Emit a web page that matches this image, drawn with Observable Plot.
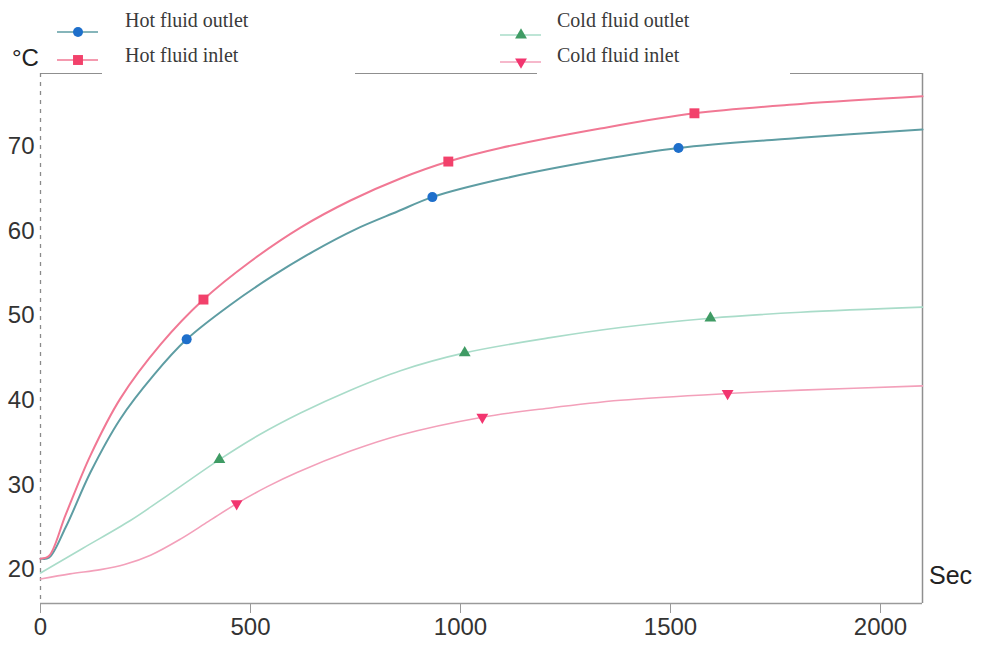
<!DOCTYPE html>
<html><head><meta charset="utf-8">
<script src="https://cdn.jsdelivr.net/npm/d3@7"></script>
<script src="https://cdn.jsdelivr.net/npm/@observablehq/plot@0.6"></script>
<style>
body{margin:0;background:#fff;}
#wrap{position:relative;width:982px;height:648px;overflow:hidden;font-family:"Liberation Sans",Arial,sans-serif;}
#chart{position:absolute;left:0;top:0;}
.mask{position:absolute;background:#fff;height:12px;top:67px;}
.leg{position:absolute;font-family:"Liberation Serif","Times New Roman",serif;font-size:20px;color:#3a3a3a;white-space:nowrap;line-height:20px;}
.sw{position:absolute;overflow:visible;}
.unit{position:absolute;font-size:24px;color:#222;line-height:24px;}
</style></head><body>
<div id="wrap"><div id="chart"></div></div>
<script>
// ---------- data ----------
const seriesNames = ["Hot fluid outlet", "Hot fluid inlet", "Cold fluid outlet", "Cold fluid inlet"];

const hotOutletTime = [0, 20, 60, 119, 190, 270, 348, 450, 550, 650, 750, 850, 933, 1095, 1333, 1519, 1810, 2100];
const hotOutletTemp = [21.3, 21.4, 25.0, 31.5, 37.8, 43.0, 47.2, 51.2, 54.6, 57.6, 60.2, 62.3, 64.0, 66.1, 68.4, 69.8, 71.0, 72.0];

const hotInletTime = [0, 20, 60, 119, 190, 286, 388, 500, 619, 738, 857, 971, 1095, 1333, 1557, 1810, 2100];
const hotInletTemp = [21.3, 21.6, 26.5, 33.5, 40.2, 46.6, 51.9, 56.4, 60.4, 63.6, 66.2, 68.2, 69.8, 72.1, 73.9, 75.0, 75.9];

const coldOutletTime = [0, 100, 214, 286, 426, 520, 619, 738, 857, 1010, 1214, 1381, 1595, 1810, 2100];
const coldOutletTemp = [19.6, 22.5, 25.8, 28.2, 33.0, 35.9, 38.5, 41.2, 43.5, 45.6, 47.4, 48.6, 49.7, 50.4, 51.0];

const coldInletTime = [0, 70, 143, 200, 262, 333, 400, 467, 540, 612, 738, 857, 1052, 1214, 1381, 1636, 1810, 2100];
const coldInletTemp = [18.9, 19.5, 20.0, 20.6, 21.7, 23.6, 25.7, 27.8, 29.8, 31.5, 34.0, 35.9, 38.0, 39.1, 40.0, 40.8, 41.2, 41.7];

// marker positions on each curve
const hotOutletMarkTime = [348, 933, 1519];
const hotOutletMarkTemp = [47.2, 64.0, 69.8];
const hotInletMarkTime = [388, 971, 1557];
const hotInletMarkTemp = [51.9, 68.2, 73.9];
const coldOutletMarkTime = [426, 1010, 1595];
const coldOutletMarkTemp = [33.0, 45.6, 49.7];
const coldInletMarkTime = [467, 1052, 1636];
const coldInletMarkTemp = [27.8, 38.0, 40.8];

const xTicks = [0, 500, 1000, 1500, 2000];
const yTicks = [20, 30, 40, 50, 60, 70];
const xDomain = [0, 2100];
const yDomain = [16, 78.6];

// ---------- styles ----------
const lineColors = ["#5e9da3", "#f17894", "#a9dcc9", "#f3a0ba"];
const markColors = ["#1e6fcb", "#f2416b", "#3f9b64", "#f2356f"];
const lineWidths = [2, 2, 1.6, 1.6];

const triangleDown = {
  draw(context, size) {
    const y = -Math.sqrt(size / (Math.sqrt(3) * 3));
    context.moveTo(0, -y * 2);
    context.lineTo(-Math.sqrt(3) * y, y);
    context.lineTo(Math.sqrt(3) * y, y);
    context.closePath();
  }
};
const symbols = ["circle", "square", "triangle", triangleDown];
const markR = [5, 5.6, 4.4, 4.4];

const lineData = [
  [hotOutletTime, hotOutletTemp],
  [hotInletTime, hotInletTemp],
  [coldOutletTime, coldOutletTemp],
  [coldInletTime, coldInletTemp]
].map(([t, v], i) => t.map((x, j) => ({series: seriesNames[i], t: x, v: v[j]})));

const markData = [
  [hotOutletMarkTime, hotOutletMarkTemp],
  [hotInletMarkTime, hotInletMarkTemp],
  [coldOutletMarkTime, coldOutletMarkTemp],
  [coldInletMarkTime, coldInletMarkTemp]
].map(([t, v], i) => t.map((x, j) => ({series: seriesNames[i], t: x, v: v[j]})));

const drawOrder = [2, 3, 0, 1];

const marks = [
  Plot.ruleY([yDomain[1]], {stroke: "#8f8f8f", strokeWidth: 1.2}),
  Plot.ruleY([yDomain[0]], {stroke: "#9a9a9a", strokeWidth: 1.5}),
  Plot.ruleX([xDomain[1]], {stroke: "#8f8f8f", strokeWidth: 1.5}),
  Plot.ruleX([xDomain[0]], {stroke: "#8a8a8a", strokeWidth: 1.3, strokeDasharray: "4,5"}),
  Plot.axisX({ticks: xTicks, tickSize: 10, tickPadding: 4, fontSize: 24, stroke: "#9a9a9a", fill: "#333", label: null, tickFormat: d => String(d)}),
  Plot.axisY({ticks: yTicks, tickSize: 0, tickPadding: 6, fontSize: 24, fill: "#333", label: null, tickFormat: d => String(d)}),
];
for (const i of drawOrder) {
  marks.push(Plot.line(lineData[i], {x: "t", y: "v", stroke: lineColors[i], strokeWidth: lineWidths[i], curve: "catmull-rom"}));
}
for (const i of drawOrder) {
  marks.push(Plot.dot(markData[i], {x: "t", y: "v", symbol: () => symbols[i], r: markR[i], fill: markColors[i], stroke: "none"}));
}

const chart = Plot.plot({
  width: 982,
  height: 648,
  marginLeft: 40,
  marginRight: 60,
  marginTop: 73,
  marginBottom: 45,
  x: {domain: xDomain},
  y: {domain: yDomain},
  symbol: {type: "identity"},
  style: {background: "#fff", fontFamily: "'Liberation Sans', Arial, sans-serif"},
  marks
});
document.getElementById("chart").appendChild(chart);

// ---------- overlays: legend, unit labels, frame gaps ----------
const wrap = document.getElementById("wrap");
function add(html) { wrap.insertAdjacentHTML("beforeend", html); }

add(`<div class="mask" style="left:102px;width:253px"></div>`);
add(`<div class="mask" style="left:537px;width:253px"></div>`);
add(`<div class="unit" style="left:12px;top:46px">°C</div>`);
add(`<div class="unit" style="left:929px;top:563px;font-size:25px">Sec</div>`);

const legendItems = [
  {i: 0, sx: 57, sy: 32, tx: 125, ty: 10},
  {i: 1, sx: 57, sy: 60, tx: 125, ty: 45},
  {i: 2, sx: 500, sy: 35, tx: 557, ty: 10},
  {i: 3, sx: 500, sy: 62, tx: 557, ty: 45}
];
for (const it of legendItems) {
  const s = d3.create("svg").attr("class", "sw").attr("width", 42).attr("height", 16)
    .style("left", it.sx + "px").style("top", (it.sy - 8) + "px");
  s.append("line").attr("x1", 0).attr("x2", 41).attr("y1", 8).attr("y2", 8)
    .attr("stroke", lineColors[it.i]).attr("stroke-width", 1.6);
  const sym = typeof symbols[it.i] === "string" ? {circle: d3.symbolCircle, square: d3.symbolSquare, triangle: d3.symbolTriangle}[symbols[it.i]] : symbols[it.i];
  s.append("path").attr("transform", "translate(21,8)")
    .attr("d", d3.symbol(sym, Math.PI * markR[it.i] * markR[it.i])())
    .attr("fill", markColors[it.i]);
  wrap.appendChild(s.node());
  add(`<div class="leg" style="left:${it.tx}px;top:${it.ty}px">${seriesNames[it.i]}</div>`);
}
</script>
</body></html>
